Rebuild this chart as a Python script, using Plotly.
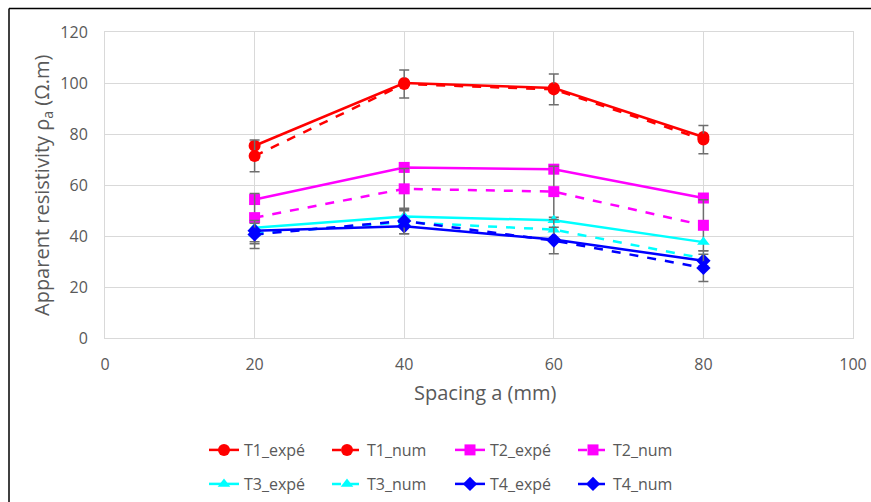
import plotly.graph_objects as go

spacing = [20, 40, 60, 80]

t1_expe = [75.4, 100.0, 98.0, 78.8]
t1_num = [71.4, 99.6, 97.5, 77.8]
t2_expe = [54.3, 66.9, 66.2, 54.9]
t2_num = [47.2, 58.5, 57.4, 44.2]
t3_expe = [43.2, 47.6, 46.2, 37.6]
t3_num = [41.0, 45.4, 42.5, 31.2]
t4_expe = [42.1, 43.8, 38.6, 30.3]
t4_num = [40.6, 45.9, 38.2, 27.5]

t1_num_err = [6.2, 5.5, 6.0, 5.5]
t2_num_err = [9.5, 8.0, 10.0, 10.0]
t3_num_err = [4.0, 4.5, 4.0, 3.0]
t4_num_err = [5.5, 5.0, 5.2, 5.3]

x_ticks = [0, 20, 40, 60, 80, 100]
y_ticks = [0, 20, 40, 60, 80, 100, 120]

x_title = "Spacing a (mm)"
y_title = "Apparent resistivity ρ<sub>a</sub> (Ω.m)"

W, H = 871, 502
ML, MR, MT, MB = 105, 18, 32, 164
PW, PH = W - ML - MR, H - MT - MB


def px_x(p):
    return (p - ML) / PW


def px_y(p):
    return (H - MB - p) / PH


err_color = "#6e6e6e"

series = [
    ("T1_expé", t1_expe, None, "#FF0000", "circle", 12, "solid", "legend"),
    ("T1_num", t1_num, t1_num_err, "#FF0000", "circle", 12, "dash", "legend"),
    ("T2_expé", t2_expe, None, "#FF00FF", "square", 11, "solid", "legend"),
    ("T2_num", t2_num, t2_num_err, "#FF00FF", "square", 11, "dash", "legend"),
    ("T3_expé", t3_expe, None, "#00FFFF", "triangle-up", 11, "solid", "legend2"),
    ("T3_num", t3_num, t3_num_err, "#00FFFF", "triangle-up", 11, "dash", "legend2"),
    ("T4_expé", t4_expe, None, "#0000FF", "diamond", 11, "solid", "legend2"),
    ("T4_num", t4_num, t4_num_err, "#0000FF", "diamond", 11, "dash", "legend2"),
]

fig = go.Figure()
for name, ys, err, col, sym, size, dash, leg in series:
    kw = {}
    if err is not None:
        kw["error_y"] = dict(type="data", array=err, visible=True,
                             color=err_color, thickness=1.5, width=5)
    fig.add_trace(go.Scatter(
        x=spacing, y=ys, name=name, mode="lines+markers",
        line=dict(color=col, width=2.5, dash=dash),
        marker=dict(color=col, symbol=sym, size=size),
        legend=leg, **kw))

font_family = "'Open Sans', Lato, sans-serif"
tick_font = dict(family=font_family, size=16, color="#595959")
leg_font = dict(family=font_family, size=16, color="#595959")
title_font = dict(family=font_family, size=20, color="#595959")

fig.update_layout(
    width=W, height=H,
    margin=dict(l=ML, r=MR, t=MT, b=MB, autoexpand=False),
    paper_bgcolor="white", plot_bgcolor="white",
    font=dict(family=font_family, color="#595959"),
    xaxis=dict(range=[0, 100], tickvals=x_ticks, showgrid=True,
               gridcolor="#d9d9d9", gridwidth=1, zeroline=False,
               showline=True, linecolor="#d9d9d9", mirror=True,
               tickfont=tick_font, ticks="", ticklabelstandoff=12,
               automargin=False),
    yaxis=dict(range=[0, 120], tickvals=y_ticks, showgrid=True,
               gridcolor="#d9d9d9", gridwidth=1, zeroline=False,
               showline=True, linecolor="#d9d9d9", mirror=True,
               tickfont=tick_font, ticks="", ticklabelstandoff=13,
               automargin=False),
    legend=dict(orientation="h", x=px_x(204), y=px_y(433), xanchor="left", yanchor="top",
                entrywidth=78, entrywidthmode="pixels", font=leg_font,
                bgcolor="rgba(0,0,0,0)"),
    legend2=dict(orientation="h", x=px_x(204), y=px_y(467), xanchor="left", yanchor="top",
                 entrywidth=78, entrywidthmode="pixels", font=leg_font,
                 bgcolor="rgba(0,0,0,0)"),
    showlegend=True,
)

fig.add_annotation(text=x_title, xref="paper", yref="paper",
                   x=px_x(485), y=px_y(392), xanchor="center", yanchor="middle",
                   showarrow=False, font=title_font)
fig.add_annotation(text=y_title, textangle=-90, xref="paper", yref="paper",
                   x=px_x(42), y=px_y(185), xanchor="center", yanchor="middle",
                   showarrow=False, font=title_font)

# outer frame lines (left and top)
fig.add_shape(type="line", xref="paper", yref="paper",
              x0=px_x(9), x1=px_x(9), y0=px_y(8.5), y1=px_y(H + 20),
              line=dict(color="black", width=1.5))
fig.add_shape(type="line", xref="paper", yref="paper",
              x0=px_x(9), x1=px_x(W + 20), y0=px_y(8.5), y1=px_y(8.5),
              line=dict(color="black", width=1.5))

fig.write_html(
    "out.html",
    config={"displayModeBar": False},
    post_script="document.body.style.margin='0';document.body.style.overflow='hidden';",
)
